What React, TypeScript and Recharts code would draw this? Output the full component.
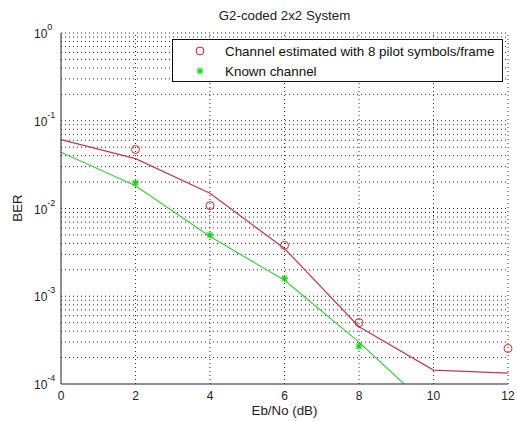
import React from "react";
import { ComposedChart, Line, Scatter, XAxis, YAxis, ReferenceLine, Legend } from "recharts";

// Eb/No (dB) sample points
const curveEbNo = [0, 2, 4, 6, 8, 10, 12];
const estimatedCurve = [0.061, 0.037, 0.0149, 0.0035, 0.00045, 0.000144, 0.000133];
const knownEbNo = [0, 2, 4, 6, 8, 10];
const knownCurve = [0.0437, 0.0182, 0.0048, 0.00152, 0.0003, 0.000049];

// simulated markers
const estimatedMarkEbNo = [2, 4, 6, 8, 12];
const estimatedMarks = [0.047, 0.0108, 0.0038, 0.0005, 0.000254];
const knownMarkEbNo = [2, 4, 6, 8];
const knownMarks = [0.0196, 0.005, 0.0016, 0.00027];

const xTicks = [0, 2, 4, 6, 8, 10, 12];
const yTicks = [1e-4, 1e-3, 1e-2, 1e-1, 1];
const yGrid = [-4, -3, -2, -1]
  .flatMap((e) => [1, 2, 3, 4, 5, 6, 7, 8, 9].map((m) => m * Math.pow(10, e)))
  .filter((v) => v > 1e-4)
  .concat([1]);
const xGrid = [2, 4, 6, 8, 10, 12];

const RED_LINE = "#c23a48";
const RED_MARK = "#cc2b2b";
const GREEN_LINE = "#3fcc3f";
const GREEN_MARK = "#12d412";
const FONT = "'Liberation Sans', Arial, sans-serif";

const zip = (xs: number[], ys: number[]) => xs.map((x, i) => ({ x, ber: ys[i] }));

function PowTick({ x, y, payload }: any) {
  const exp = Math.round(Math.log10(payload.value));
  return (
    <text x={x - 27} y={y} fill="#222" fontSize={12} fontFamily={FONT}>
      <tspan dy={5}>10</tspan>
      <tspan dy={-8} fontSize={9}>
        {exp}
      </tspan>
    </text>
  );
}

function Ring({ cx, cy }: any) {
  return <circle cx={cx} cy={cy} r={4} fill="none" stroke={RED_MARK} strokeWidth={1} />;
}

function Star({ cx, cy }: any) {
  const s = 3.5;
  const d = 2.6;
  return (
    <g stroke={GREEN_MARK} strokeWidth={1.2}>
      <line x1={cx - s} y1={cy} x2={cx + s} y2={cy} />
      <line x1={cx} y1={cy - s} x2={cx} y2={cy + s} />
      <line x1={cx - d} y1={cy - d} x2={cx + d} y2={cy + d} />
      <line x1={cx - d} y1={cy + d} x2={cx + d} y2={cy - d} />
    </g>
  );
}

function LegendBox() {
  const row = (icon: React.ReactNode, text: string) => (
    <div style={{ display: "flex", alignItems: "center", height: 20 }}>
      <svg width={52} height={14} style={{ flex: "none" }}>
        {icon}
      </svg>
      <span style={{ whiteSpace: "nowrap" }}>{text}</span>
    </div>
  );
  return (
    <div
      style={{
        width: 331,
        height: 43,
        boxSizing: "border-box",
        border: "1px solid #111",
        background: "#fff",
        paddingTop: 1,
        fontFamily: FONT,
        fontSize: 13.4,
        color: "#111",
      }}
    >
      {row(<Ring cx={27} cy={7} />, "Channel estimated with 8 pilot symbols/frame")}
      {row(<Star cx={27} cy={7} />, "Known channel")}
    </div>
  );
}

const labelStyle = { position: "absolute", fontFamily: FONT, fontSize: 13.3, color: "#222" } as const;

export default function App() {
  return (
    <div style={{ position: "absolute", left: 0, top: 0, width: 517, height: 421, background: "#fff" }}>
      <ComposedChart width={517} height={421} margin={{ top: 33, right: 9, bottom: 0, left: 0 }}>
        <XAxis
          type="number"
          dataKey="x"
          domain={[0, 12]}
          ticks={xTicks}
          height={37}
          tickSize={0}
          tickMargin={7}
          tick={{ fill: "#222", fontSize: 12, fontFamily: FONT }}
          axisLine={{ stroke: "#222" }}
        />
        <YAxis
          yAxisId="ber"
          dataKey="ber"
          type="number"
          scale="log"
          domain={[1e-4, 1]}
          allowDataOverflow
          ticks={yTicks}
          width={61}
          tickSize={0}
          tickMargin={0}
          tick={<PowTick />}
          axisLine={{ stroke: "#222" }}
        />
        <YAxis yAxisId="mk" dataKey="ber" type="number" scale="log" domain={[1e-4, 1]} hide />
        {yGrid.map((v) => (
          <ReferenceLine key={"y" + v} yAxisId="ber" y={v} stroke="#333" strokeDasharray="1 3" />
        ))}
        {xGrid.map((v) => (
          <ReferenceLine key={"x" + v} yAxisId="ber" x={v} stroke="#333" strokeDasharray="1 3" />
        ))}
        <Legend
          layout="horizontal"
          verticalAlign="middle"
          align="center"
          wrapperStyle={{ left: 172, top: 39, width: 331 }}
          content={() => <LegendBox />}
        />
        <Line
          yAxisId="ber"
          data={zip(curveEbNo, estimatedCurve)}
          dataKey="ber"
          stroke={RED_LINE}
          strokeWidth={1.2}
          dot={false}
          activeDot={false}
          isAnimationActive={false}
        />
        <Line
          yAxisId="ber"
          data={zip(knownEbNo, knownCurve)}
          dataKey="ber"
          stroke={GREEN_LINE}
          strokeWidth={1.2}
          dot={false}
          activeDot={false}
          isAnimationActive={false}
        />
        <Scatter yAxisId="mk" data={zip(estimatedMarkEbNo, estimatedMarks)} dataKey="ber" shape={<Ring />} isAnimationActive={false} />
        <Scatter yAxisId="mk" data={zip(knownMarkEbNo, knownMarks)} dataKey="ber" shape={<Star />} isAnimationActive={false} />
      </ComposedChart>
      <div style={{ ...labelStyle, left: 61, width: 447, top: 8, textAlign: "center" }}>G2-coded 2x2 System</div>
      <div style={{ ...labelStyle, left: 61, width: 447, top: 403, textAlign: "center" }}>Eb/No (dB)</div>
      <div style={{ ...labelStyle, left: 17, top: 208, transform: "translate(-50%, -50%) rotate(-90deg)" }}>BER</div>
    </div>
  );
}
